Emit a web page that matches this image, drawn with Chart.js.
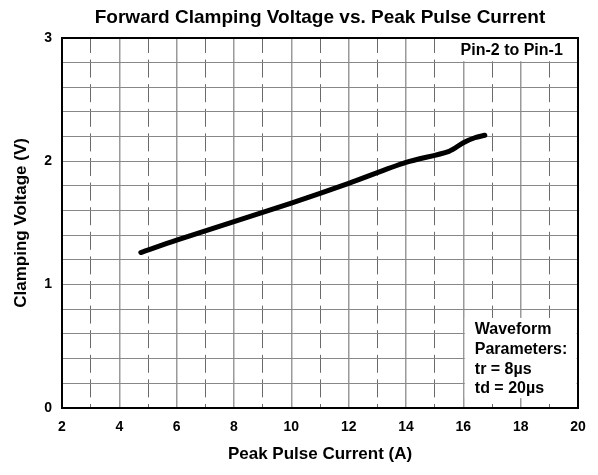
<!DOCTYPE html>
<html>
<head>
<meta charset="utf-8">
<script src="https://cdn.jsdelivr.net/npm/chart.js@4.4.1/dist/chart.umd.min.js"></script>
<style>
  body { margin: 0; background: #fff; }
  #wrap { width: 598px; height: 475px; }
</style>
</head>
<body>
<div id="wrap"><canvas id="myChart" width="598" height="475"></canvas></div>
<script>
// values
const currentA = [4.75, 6, 8, 10, 12, 14, 15.5, 16, 16.4, 16.75];
const voltageV = [1.26, 1.36, 1.51, 1.66, 1.82, 1.99, 2.08, 2.15, 2.19, 2.21];
const oddTicks = [3, 5, 7, 9, 11, 13, 15, 17, 19];
const noteTop = ["Pin-2 to Pin-1"];
const noteBottom = ["Waveform", "Parameters:", "tr = 8\u00b5s", "td = 20\u00b5s"];

const FONT = "'Liberation Sans', Arial, sans-serif";
const isInt = v => Math.abs(v - Math.round(v)) < 1e-6;

// the two text boxes on the plot
const notes = {
  id: "notes",
  afterDatasetsDraw(chart) {
    const { ctx, scales: { x, y } } = chart;
    ctx.save();
    ctx.fillStyle = "#fff";
    // Pin-2 box
    ctx.fillRect(x.getPixelForValue(15.65), y.getPixelForValue(2.99),
      x.getPixelForValue(19.85) - x.getPixelForValue(15.65),
      y.getPixelForValue(2.81) - y.getPixelForValue(2.99));
    // waveform box
    ctx.fillRect(x.getPixelForValue(16.05), y.getPixelForValue(0.73),
      x.getPixelForValue(19.95) - x.getPixelForValue(16.05),
      y.getPixelForValue(0.08) - y.getPixelForValue(0.73));
    ctx.fillStyle = "#000";
    ctx.font = "bold 16px " + FONT;
    ctx.textBaseline = "middle";
    ctx.textAlign = "right";
    ctx.fillText(noteTop[0], x.getPixelForValue(19.47), y.getPixelForValue(2.9));
    ctx.textAlign = "left";
    const rows = [0.633, 0.470, 0.308, 0.154];
    noteBottom.forEach((t, i) => {
      ctx.fillText(t, x.getPixelForValue(16.4), y.getPixelForValue(rows[i]));
    });
    ctx.restore();
  }
};

const canvas = document.getElementById("myChart");

const myChart = new Chart(canvas, {
  type: "line",
  data: {
    datasets: [
      {
        data: currentA.map((c, i) => ({ x: c, y: voltageV[i] })),
        borderColor: "#000",
        borderWidth: 5,
        borderCapStyle: "round",
        borderJoinStyle: "round",
        pointRadius: 0,
        tension: 0.3,
        fill: false,
      },
    ],
  },
  options: {
    responsive: false,
    animation: false,
    layout: { padding: { left: 0, right: 20, top: 0, bottom: 0 } },
    plugins: {
      legend: { display: false },
      tooltip: { enabled: false },
      title: {
        display: true,
        fullSize: false,
        text: "Forward Clamping Voltage vs. Peak Pulse Current",
        color: "#000",
        font: { family: FONT, size: 19, weight: "bold" },
        padding: { top: 6, bottom: 9 },
      },
    },
    scales: {
      x: {
        type: "linear",
        min: 2,
        max: 20,
        ticks: {
          stepSize: 1,
          color: "#000",
          padding: 11,
          maxRotation: 0,
          font: { family: FONT, size: 14, weight: "bold" },
          callback: v => (v % 2 === 0 ? v : ""),
        },
        grid: {
          drawTicks: false,
          color: ctx => (ctx.tick && ctx.tick.value % 2 === 0 ? "#9a9a9a" : "rgba(0,0,0,0)"),
          lineWidth: 1.5,
        },
        border: { color: "#000", width: 2 },
        title: {
          display: true,
          text: "Peak Pulse Current (A)",
          color: "#000",
          font: { family: FONT, size: 17, weight: "bold" },
          padding: { top: 0, bottom: 10 },
        },
        afterFit: axis => { axis.height = 67; },
      },
      // dashed lines at odd currents, also the top frame
      x2: {
        type: "linear",
        position: "top",
        min: 2,
        max: 20,
        afterBuildTicks: axis => { axis.ticks = oddTicks.map(v => ({ value: v })); },
        ticks: { display: false },
        grid: { drawTicks: false, color: "#6a6a6a", lineWidth: 1 },
        border: { color: "#000", width: 2, dash: [18, 6.6], dashOffset: 4 },
        afterFit: axis => { axis.height = 0; },
      },
      y: {
        min: 0,
        max: 3,
        ticks: {
          stepSize: 0.2,
          color: "#000",
          padding: 10,
          font: { family: FONT, size: 14, weight: "bold" },
          callback: v => (isInt(v) ? Math.round(v) : ""),
        },
        grid: { drawTicks: false, color: "#888", lineWidth: 1 },
        border: { color: "#000", width: 2 },
        title: {
          display: true,
          text: "Clamping Voltage (V)",
          color: "#000",
          font: { family: FONT, size: 17, weight: "bold" },
          padding: { top: 11, bottom: 0 },
        },
        afterFit: axis => { axis.width = 62; },
      },
      // right frame
      y2: {
        position: "right",
        min: 0,
        max: 3,
        ticks: { display: false },
        grid: { display: false, drawTicks: false },
        border: { color: "#000", width: 2 },
        afterFit: axis => { axis.width = 0; },
      },
    },
  },
  plugins: [notes],
});
</script>
</body>
</html>
